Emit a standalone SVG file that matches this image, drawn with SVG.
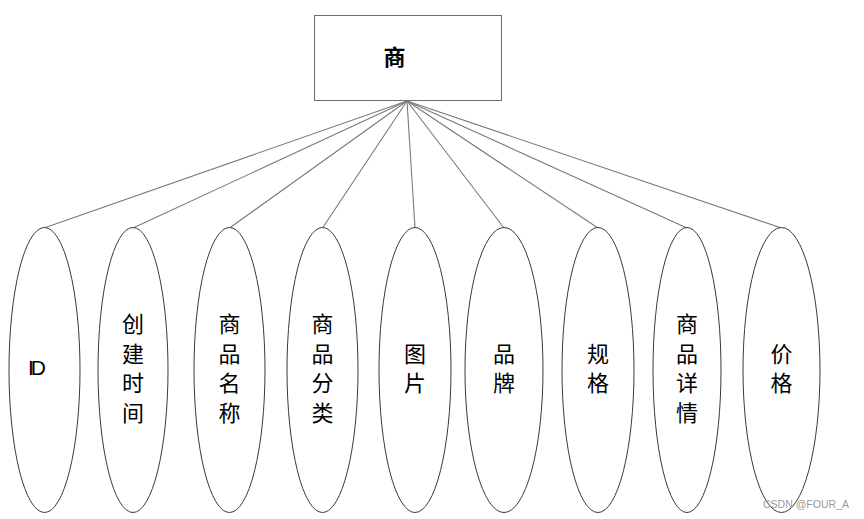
<svg xmlns="http://www.w3.org/2000/svg" width="864" height="519" viewBox="0 0 864 519">
<style>
.bg{fill:#fff}
.ent{fill:#fff;stroke:#6e6e6e;stroke-width:1}
.att{fill:#fff;stroke:#3a3a3a;stroke-width:1}
.con line{stroke:#7a7a7a;stroke-width:1.1}
.t{font-family:"Noto Sans CJK SC","Liberation Sans",sans-serif;font-size:22px;fill:#000;text-anchor:middle}
.wm{font-family:"Liberation Sans","DejaVu Sans",sans-serif;font-size:11px;fill:#9a9a9a}
</style>
<rect class="bg" x="0" y="0" width="864" height="519"/>
<g id="connectors" class="con">
<line x1="407" y1="101" x2="44" y2="228"/>
<line x1="407" y1="101" x2="133" y2="228"/>
<line x1="407" y1="101" x2="229.5" y2="228"/>
<line x1="407" y1="101" x2="322.5" y2="228"/>
<line x1="407" y1="101" x2="415" y2="228"/>
<line x1="407" y1="101" x2="504" y2="228"/>
<line x1="407" y1="101" x2="598" y2="228"/>
<line x1="407" y1="101" x2="687" y2="228"/>
<line x1="407" y1="101" x2="781.5" y2="228"/>
</g>
<g id="entity">
<rect class="ent" x="314.5" y="15.5" width="187" height="85"/>
<text class="t" x="394.5" y="65" font-weight="bold">商</text>
</g>
<g id="attr-id">
<ellipse class="att" cx="44.5" cy="370" rx="35.5" ry="142.5"/>
<text x="28" y="375" font-family="Liberation Sans, sans-serif" font-size="21" letter-spacing="-3">ID</text>
</g>
<g id="attr-create-time">
<ellipse class="att" cx="133" cy="370" rx="35" ry="142.5"/>
<text class="t" x="133" y="332">创</text>
<text class="t" x="133" y="361.5">建</text>
<text class="t" x="133" y="391">时</text>
<text class="t" x="133" y="420.5">间</text>
</g>
<g id="attr-name">
<ellipse class="att" cx="229.5" cy="370" rx="35.5" ry="142.5"/>
<text class="t" x="229.5" y="332">商</text>
<text class="t" x="229.5" y="361.5">品</text>
<text class="t" x="229.5" y="391">名</text>
<text class="t" x="229.5" y="420.5">称</text>
</g>
<g id="attr-category">
<ellipse class="att" cx="322.5" cy="370" rx="35.5" ry="142.5"/>
<text class="t" x="322.5" y="332">商</text>
<text class="t" x="322.5" y="361.5">品</text>
<text class="t" x="322.5" y="391">分</text>
<text class="t" x="322.5" y="420.5">类</text>
</g>
<g id="attr-image">
<ellipse class="att" cx="415" cy="370" rx="36" ry="142.5"/>
<text class="t" x="415" y="361.5">图</text>
<text class="t" x="415" y="391">片</text>
</g>
<g id="attr-brand">
<ellipse class="att" cx="504" cy="370" rx="39" ry="142.5"/>
<text class="t" x="504" y="361.5">品</text>
<text class="t" x="504" y="391">牌</text>
</g>
<g id="attr-spec">
<ellipse class="att" cx="598" cy="370" rx="36" ry="142.5"/>
<text class="t" x="598" y="361.5">规</text>
<text class="t" x="598" y="391">格</text>
</g>
<g id="attr-detail">
<ellipse class="att" cx="687" cy="370" rx="34" ry="142.5"/>
<text class="t" x="687" y="332">商</text>
<text class="t" x="687" y="361.5">品</text>
<text class="t" x="687" y="391">详</text>
<text class="t" x="687" y="420.5">情</text>
</g>
<g id="attr-price">
<ellipse class="att" cx="781.5" cy="370" rx="38.5" ry="142.5"/>
<text class="t" x="781.5" y="361.5">价</text>
<text class="t" x="781.5" y="391">格</text>
</g>
<text class="wm" x="763" y="508" textLength="86" lengthAdjust="spacingAndGlyphs">CSDN @FOUR_A</text>
</svg>
